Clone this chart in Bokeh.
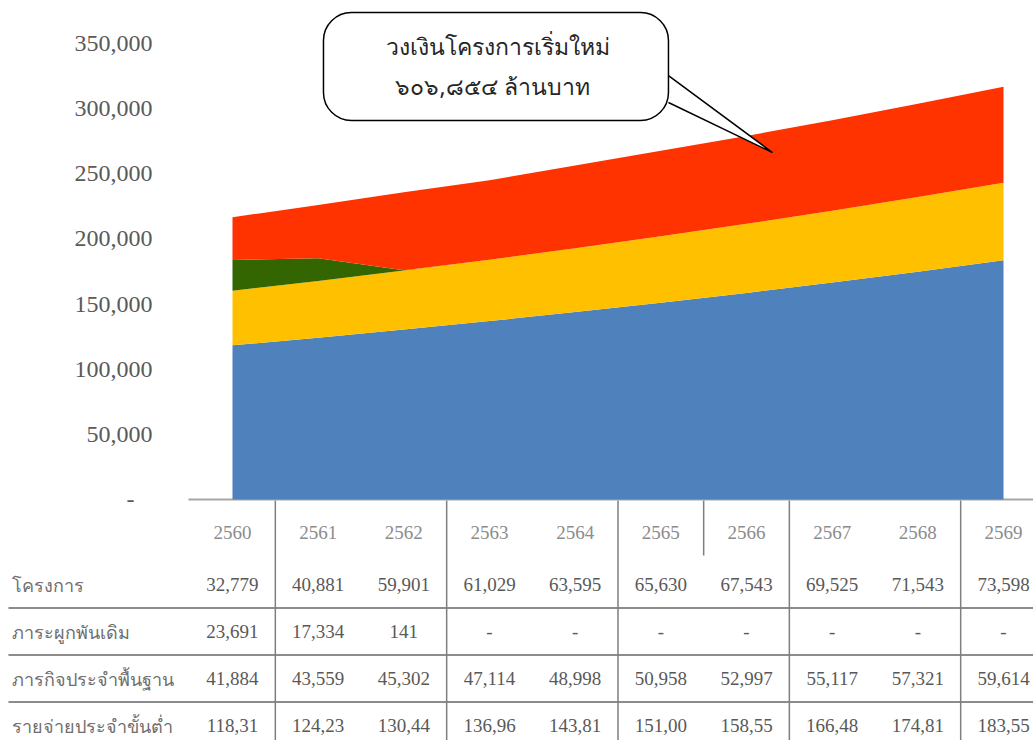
from bokeh.plotting import figure
from bokeh.models import (ColumnDataSource, Range1d, BoxAnnotation, Label)
from bokeh.core.properties import value
from bokeh.embed import file_html
from bokeh.resources import INLINE

# ---------------- data ----------------
years = ["2560", "2561", "2562", "2563", "2564", "2565", "2566", "2567", "2568", "2569"]
row_labels = ["โครงการ", "ภาระผูกพันเดิม", "ภารกิจประจำพื้นฐาน", "รายจ่ายประจำขั้นต่ำ"]
projects = [32779, 40881, 59901, 61029, 63595, 65630, 67543, 69525, 71543, 73598]
commitments = [23691, 17334, 141, 0, 0, 0, 0, 0, 0, 0]
basic_mission = [41884, 43559, 45302, 47114, 48998, 50958, 52997, 55117, 57321, 59614]
minimum_exp = [118310, 124230, 130440, 136960, 143810, 151000, 158550, 166480, 174810, 183550]
y_ticks = [0, 50000, 100000, 150000, 200000, 250000, 300000, 350000]
callout_lines = ["วงเงินโครงการเริ่มใหม่", "๖๐๖,๘๕๔ ล้านบาท"]

# ---------------- layout / styling ----------------
COLORS = ["#4f81bd", "#ffc000", "#336600", "#ff3300"]  # bottom -> top
W, H = 1033, 740
X_RANGE = (-2.708, 9.350)          # category index
Y_RANGE = (-185000, 383000)        # chart values
TABLE_RANGE = (4.319, -11.426)     # table rows (inverted)
TXT = "#595959"
YLAB_X = -0.934
AREA_LEFT = -0.514
ROWLAB_X = -2.57
TABLE_TOP = -0.787
TICKMARK_BOTTOM = 0.383

xs = list(range(len(years)))

p = figure(width=W, height=H, output_backend="svg", toolbar_location=None,
           x_range=Range1d(*X_RANGE), y_range=Range1d(*Y_RANGE),
           x_axis_location=None, y_axis_location=None, min_border=0)
p.extra_y_ranges = {"table": Range1d(*TABLE_RANGE)}
p.outline_line_color = None
p.xgrid.visible = False
p.ygrid.visible = False

# ---------------- chart ----------------
src = ColumnDataSource(dict(x=xs, minimum=minimum_exp, basic=basic_mission,
                            commit=commitments, proj=projects))

# baseline (category axis line)
p.segment(x0=[AREA_LEFT], y0=[0], x1=[X_RANGE[1]], y1=[0],
          line_color="#a6a6a6", line_width=2)
p.varea_stack(stackers=["minimum", "basic", "commit", "proj"], x="x",
              color=COLORS, source=src)

# value-axis labels
ylabels = ["-\u00a0\u00a0\u00a0" if v == 0 else f"{v:,}" for v in y_ticks]
p.text(x=[YLAB_X] * len(y_ticks), y=y_ticks, text=ylabels, text_align="right",
       text_baseline="middle", text_font=value("Liberation Serif"),
       text_font_size="24px", text_color="#5a5a5a")

# callout
BOX_L, BOX_R, BOX_T, BOX_B = 1.062, 5.089, 373700, 290900
p.add_layout(BoxAnnotation(left=BOX_L, right=BOX_R, top=BOX_T, bottom=BOX_B,
                           fill_color="white", fill_alpha=1.0, line_color="black",
                           line_alpha=1.0, line_width=1.5, border_radius=28,
                           level="overlay"))
PTR_A, PTR_B, TIP_X, TIP_Y = 325400, 304700, 6.303, 266300
p.patch([BOX_R - 0.05, BOX_R, TIP_X, BOX_R, BOX_R - 0.05],
        [PTR_A, PTR_A, TIP_Y, PTR_B, PTR_B], fill_color="white", line_color=None,
        level="overlay")
p.line([BOX_R, TIP_X, BOX_R], [PTR_A, TIP_Y, PTR_B], line_color="black",
       line_width=1.5, level="overlay")
for txt, lx, ly in zip(callout_lines, [3.105, 3.035], [348400, 317700]):
    p.add_layout(Label(x=lx, y=ly, text=txt, text_align="center",
                       text_baseline="middle", text_font="Noto Sans",
                       text_font_size="23px", text_color="#262626", level="overlay"))

# ---------------- data table ----------------
def fmt(v):
    return "-" if v == 0 else f"{v:,}"


rows = [projects, commitments, basic_mission, minimum_exp]
tx, ty, tt = [], [], []
for r, vals in enumerate(rows, start=1):
    for i, v in enumerate(vals):
        s = fmt(v)
        if r == 4:
            s = s[:6]  # shown truncated in the narrow cells of the source table
        tx.append(i)
        ty.append(r)
        tt.append(s)

p.text(x=xs, y=[0] * len(years), text=years, y_range_name="table",
       text_align="center", text_baseline="middle", y_offset=-5,
       text_font=value("Liberation Serif"), text_font_size="19px",
       text_color="#8c8c8c")
p.text(x=tx, y=ty, text=tt, y_range_name="table", text_align="center",
       text_baseline="middle", text_font=value("Liberation Serif"),
       text_font_size="19px", text_color=TXT)
p.text(x=[ROWLAB_X] * len(row_labels), y=list(range(1, len(row_labels) + 1)),
       text=row_labels, y_range_name="table", text_align="left",
       text_baseline="middle", text_font=value("Noto Sans"),
       text_font_size="18px", text_color="#6e6e6e")

# table rules
hl = [k + 0.5 for k in range(1, len(row_labels))]
p.segment(x0=[X_RANGE[0] + 0.093] * len(hl), y0=hl, x1=[X_RANGE[1]] * len(hl), y1=hl,
          y_range_name="table", line_color="#8c8c8c", line_width=2)
vb = [b + 0.5 for b in range(0, len(years) - 1, 2)]
p.segment(x0=vb, y0=[TABLE_TOP] * len(vb), x1=vb, y1=[TABLE_RANGE[0]] * len(vb),
          y_range_name="table", line_color="#7f7f7f", line_width=1.5)
p.segment(x0=[5.5], y0=[TABLE_TOP], x1=[5.5], y1=[TICKMARK_BOTTOM],
          y_range_name="table", line_color="#7f7f7f", line_width=1.5)

open("out.html", "w").write(file_html(p, INLINE))
